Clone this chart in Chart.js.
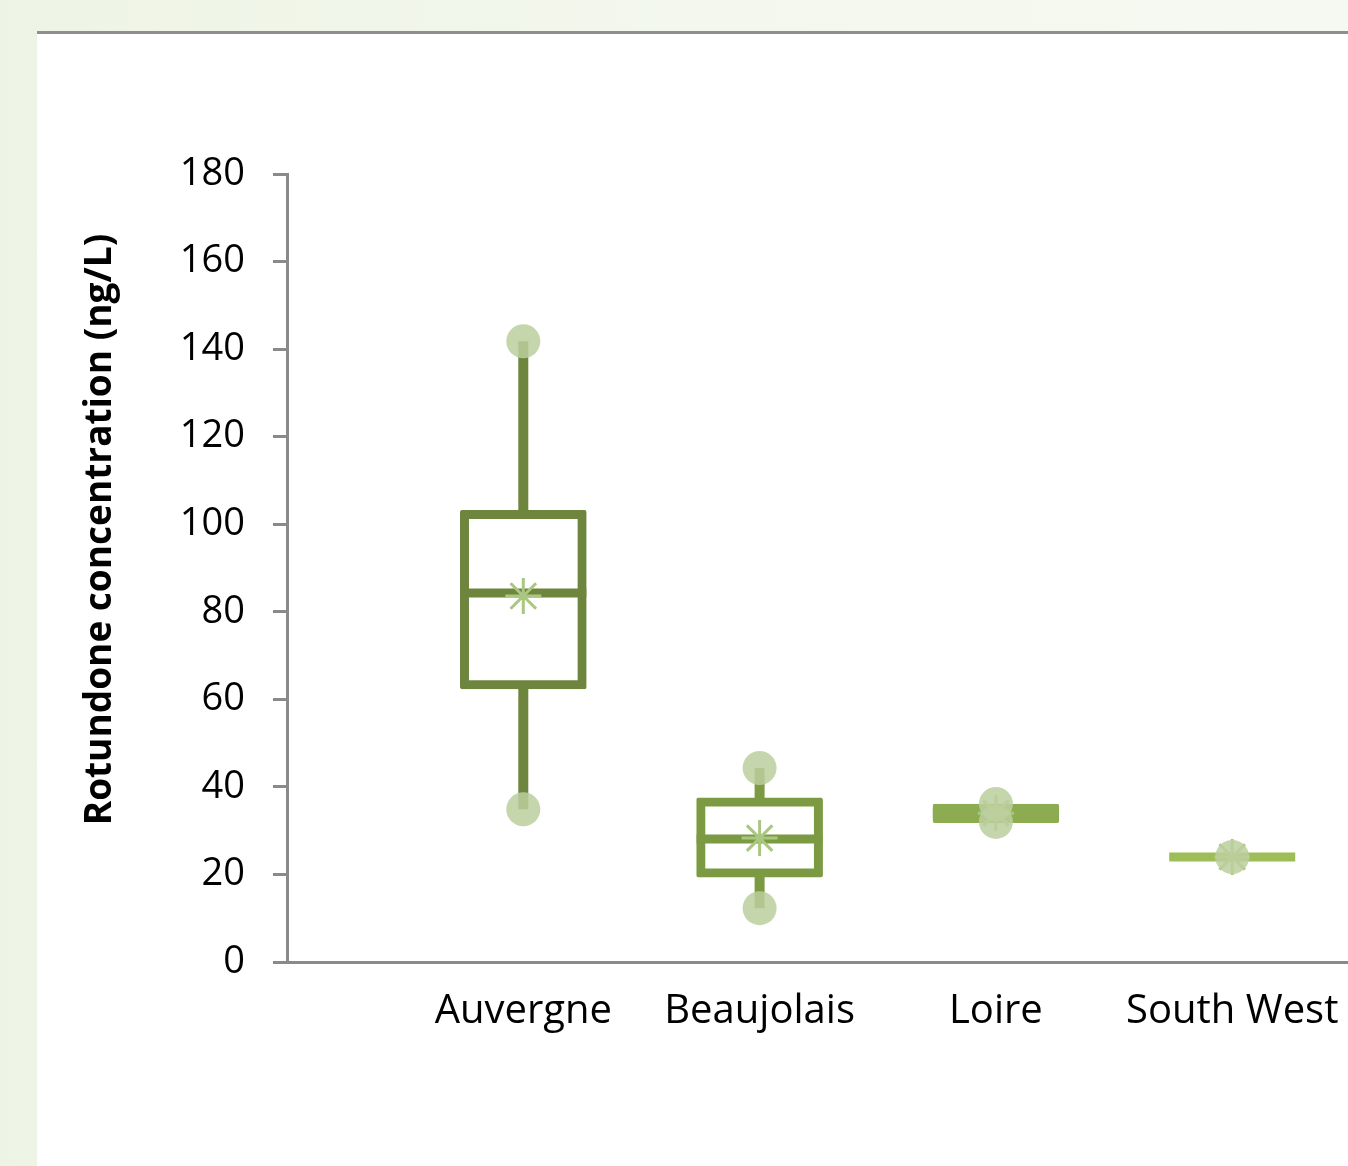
<!DOCTYPE html>
<html>
<head>
<meta charset="utf-8">
<script src="https://cdn.jsdelivr.net/npm/chart.js@4.4.1/dist/chart.umd.min.js"></script>
<style>
  html, body { margin: 0; padding: 0; }
  body {
    width: 1348px; height: 1166px; position: relative; overflow: hidden;
    background: linear-gradient(90deg, #eef4e5 0%, #f3f7ed 50%, #f6f9f1 100%);
  }
  #sheet {
    position: absolute; left: 37px; top: 31px; right: 0; bottom: 0;
    background: #fff; border-top: 3px solid #8e8e8e;
  }
  #chart { position: absolute; left: 0; top: 0; }
</style>
</head>
<body>
<div id="sheet"></div>
<canvas id="chart" width="1348" height="1166"></canvas>
<script>
const CATEGORIES = ['Auvergne', 'Beaujolais', 'Loire', 'South West'];

// box-and-whisker values, ng/L
const MIN = [34.9, 12.3, 32.0, 24.0];
const Q1 = [62.4, 19.4, 31.8, 24.0];
const MEDIAN = [84.3, 28.1, 34.0, 24.0];
const Q3 = [103.2, 37.5, 36.1, 24.0];
const MAX = [141.8, 44.3, 36.1, 24.0];
const MEAN = [83.6, 28.3, 34.0, 24.0];

const Y_TICKS = [0, 20, 40, 60, 80, 100, 120, 140, 160, 180];

const BOX_COLORS = ['#6e853e', '#7b9a42', '#8dac51', '#9dbd57'];
const DOT_COLOR = 'rgba(188, 207, 158, 0.85)';
const MEAN_COLOR = '#a9c780';
const AXIS_COLOR = '#8a8a8a';

const pos = (i) => i + 1;

const whiskers = CATEGORIES.map((c, i) => ({
  type: 'line',
  data: [{ x: pos(i), y: MIN[i] }, { x: pos(i), y: MAX[i] }],
  borderColor: BOX_COLORS[i],
  borderWidth: 10,
  pointRadius: 0,
  order: 5,
}));

const dots = [];
CATEGORIES.forEach((c, i) => {
  dots.push({ x: pos(i), y: MAX[i] });
  if (MIN[i] !== MAX[i]) dots.push({ x: pos(i), y: MIN[i] });
});

new Chart(document.getElementById('chart'), {
  data: {
    datasets: [
      {
        type: 'scatter',
        data: dots,
        backgroundColor: DOT_COLOR,
        borderWidth: 0,
        pointRadius: 17,
        order: 0,
      },
      {
        type: 'scatter',
        data: MEAN.map((v, i) => ({ x: pos(i), y: v })),
        pointStyle: 'star',
        borderColor: MEAN_COLOR,
        borderWidth: 3,
        pointRadius: 18,
        order: 1,
      },
      {
        type: 'scatter',
        data: MEDIAN.map((v, i) => ({ x: pos(i), y: v })),
        pointStyle: 'line',
        borderColor: BOX_COLORS,
        borderWidth: 9,
        pointRadius: 63,
        order: 2,
      },
      {
        type: 'bar',
        data: Q1.map((v, i) => ({ x: pos(i), y: [v, Q3[i]] })),
        backgroundColor: '#ffffff',
        borderColor: BOX_COLORS,
        borderWidth: 9,
        borderSkipped: false,
        borderRadius: 2,
        barThickness: 126,
        order: 3,
      },
      ...whiskers,
    ],
  },
  options: {
    responsive: false,
    animation: false,
    events: [],
    layout: { autoPadding: false, padding: { top: 174, left: 78, right: 0, bottom: 0 } },
    plugins: { legend: { display: false }, tooltip: { enabled: false } },
    scales: {
      x: {
        type: 'linear',
        offset: false,
        min: 0,
        max: 4.49,
        afterBuildTicks: (scale) => { scale.ticks = CATEGORIES.map((c, i) => ({ value: pos(i) })); },
        afterFit: (scale) => {
          scale.height = 204;
          scale.paddingLeft = 0;
          scale.paddingRight = 0;
        },
        grid: { display: false, drawTicks: false },
        border: { display: true, color: AXIS_COLOR, width: 3 },
        ticks: {
          padding: 26,
          autoSkip: false,
          maxRotation: 0,
          color: '#000',
          font: { family: 'Open Sans', size: 40 },
          callback: (v) => CATEGORIES[v - 1] || '',
        },
      },
      y: {
        min: 0,
        max: 180,
        afterBuildTicks: (scale) => { scale.ticks = Y_TICKS.map((v) => ({ value: v })); },
        afterFit: (scale) => { scale.width = 287 - 78; },
        grid: { drawOnChartArea: false, drawTicks: true, tickLength: 14, color: AXIS_COLOR, lineWidth: 3 },
        border: { display: true, color: AXIS_COLOR, width: 3 },
        ticks: {
          padding: 28,
          color: '#000',
          font: { family: 'Open Sans', size: 38 },
        },
        title: {
          display: true,
          // leading spaces nudge the centred title up, as in the original
          text: '        Rotundone concentration (ng/L)',
          color: '#000',
          padding: 0,
          font: { family: 'Open Sans', size: 37, weight: 'bold' },
        },
      },
    },
  },
});
</script>
</body>
</html>
